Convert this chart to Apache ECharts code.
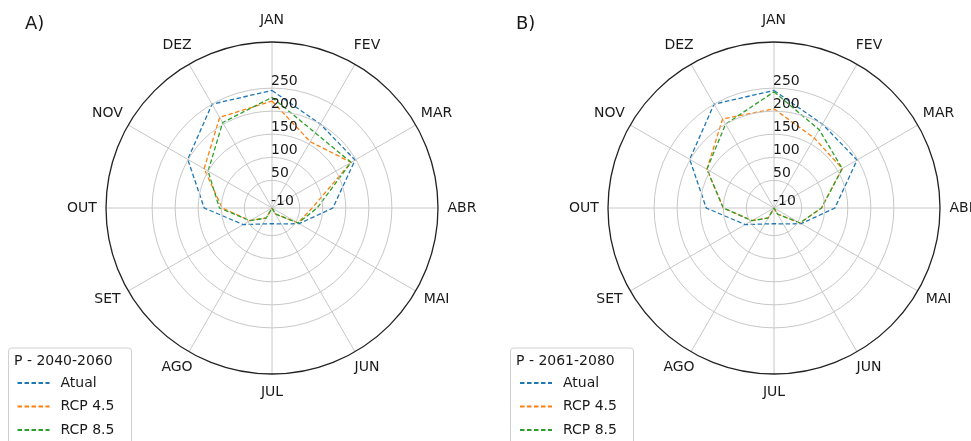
<!DOCTYPE html>
<html>
<head>
<meta charset="utf-8">
<script src="https://cdn.jsdelivr.net/npm/echarts@6/dist/echarts.min.js"></script>
<style>html,body{margin:0;padding:0;background:#fff}#c{width:971px;height:441px}</style>
</head>
<body>
<div id="c"></div>
<script>
const months = ['JAN','FEV','MAR','ABR','MAI','JUN','JUL','AGO','SET','OUT','NOV','DEZ'];
const radialTicks = [-10, 50, 100, 150, 200, 250];
const seriesNames = ['Atual', 'RCP 4.5', 'RCP 8.5'];
const panelLabels = ['A)', 'B)'];
const legendTitles = ['P - 2040-2060', 'P - 2061-2080'];
// Panel A
const atualA = [245, 200, 198, 122, 58, 30, 24, 30, 62, 137, 201, 250];
const rcp45A = [222, 156, 188, 77, 55, 5, -10, 15, 45, 98, 160, 217];
const rcp85A = [230, 178, 188, 88, 55, 5, -10, 15, 45, 104, 150, 204];
// Panel B
const atualB = [245, 200, 198, 122, 58, 30, 24, 30, 62, 137, 201, 250];
const rcp45B = [205, 165, 161, 93, 55, 5, -10, 15, 45, 100, 158, 213];
const rcp85B = [242, 186, 161, 93, 55, 5, -10, 15, 45, 100, 158, 200];

const colors = ['#1f77b4', '#ff7f0e', '#2ca02c'];
const FONT = 'DejaVu Sans';
const TXT = '#1a1a1a';
const centers = [[272, 208], [774, 208]];
const R = 166;

// --- month label placement: centre each label on an ellipse around the plot ---
const LABEL_RX = 190, LABEL_RY = 186, LABEL_DY = -2, LABEL_MARGIN = -30, LH = 16;
const measureCtx = document.createElement('canvas').getContext('2d');
measureCtx.font = '14px "DejaVu Sans"';
const rich = {};
months.forEach((m, i) => {
  const th = i * Math.PI / 6;
  const ux = Math.sin(th), uy = -Math.cos(th);
  const pr = R + LABEL_MARGIN;
  const px = pr * ux, py = pr * uy;
  const cxl = LABEL_RX * ux, cyl = LABEL_RY * uy + LABEL_DY;
  const tw = measureCtx.measureText(m).width;
  let pl = 0, prt = 0, pt = 0, pb = 0;
  const hAlign = Math.abs(px) / R < 0.3 ? 'center' : (px > 0 ? 'left' : 'right');
  const vAlign = Math.abs(py) / R < 0.3 ? 'middle' : (py > 0 ? 'top' : 'bottom');
  if (hAlign === 'left') pl = (cxl - px) - tw / 2;
  if (hAlign === 'right') prt = (px - cxl) - tw / 2;
  // text sits in the vertical middle of its padded line box
  if (vAlign === 'bottom') pb = 2 * (py - cyl) - LH;
  if (vAlign === 'top') pt = 2 * (cyl - py) - LH;
  rich['m' + i] = {
    fontFamily: FONT, fontSize: 14, color: TXT, lineHeight: LH,
    padding: [Math.max(0, pt), Math.max(0, prt), Math.max(0, pb), Math.max(0, pl)]
  };
});

function closed(vals) {
  const d = vals.map((v, i) => [v, i]);
  d.push([vals[0], 12]);
  return d;
}

const panels = [[atualA, rcp45A, rcp85A], [atualB, rcp45B, rcp85B]];

const polar = centers.map(c => ({ center: c, radius: R }));
const angleAxis = centers.map((c, k) => ({
  polarIndex: k, type: 'value', min: 0, max: 12, interval: 1,
  startAngle: 90, clockwise: true,
  axisLine: { show: true, lineStyle: { color: '#222', width: 1.3 } },
  axisTick: { show: false },
  axisLabel: {
    margin: LABEL_MARGIN, rich,
    fontFamily: FONT, fontSize: 14, color: TXT,
    formatter: v => (v >= 0 && v < 12 ? '{m' + v + '|' + months[v] + '}' : '')
  },
  splitLine: { show: true, lineStyle: { color: '#c8c8c8', width: 1 } }
}));
const radiusAxis = centers.map((c, k) => ({
  polarIndex: k, type: 'value', min: -10, max: 350,
  axisLine: { show: false },
  axisTick: { show: false, customValues: radialTicks },
  axisLabel: {
    customValues: radialTicks, inside: false, margin: 1,
    align: 'left', verticalAlign: 'bottom',
    fontFamily: FONT, fontSize: 14, color: TXT
  },
  splitLine: { show: true, lineStyle: { color: '#c8c8c8', width: 1 } },
  z: 5
}));

const series = [];
panels.forEach((p, k) => {
  p.forEach((vals, j) => {
    series.push({
      name: seriesNames[j], type: 'line', coordinateSystem: 'polar', polarIndex: k,
      data: closed(vals), symbol: 'none', silent: true,
      lineStyle: { color: colors[j], width: 1.3, type: [4.5, 2.5] },
      itemStyle: { color: colors[j] }
    });
  });
});

const boxLeft = [8, 510];
const itemLeft = [16.5, 519];
const legend = itemLeft.map(x => ({
  orient: 'vertical', left: x, top: 376, itemGap: 9.5, padding: 0,
  itemWidth: 32, itemHeight: 12,
  data: seriesNames,
  itemStyle: { opacity: 0 },
  textStyle: { fontFamily: FONT, fontSize: 14, color: TXT, padding: [0, 0, 0, 6] },
  selectedMode: false
}));

const graphic = [];
boxLeft.forEach((x, k) => {
  graphic.push({
    type: 'rect', left: x, top: 347.5, shape: { width: 123, height: 100, r: 3 },
    style: { fill: '#fff', stroke: '#d0d0d0', lineWidth: 1 }, z: -1
  });
  graphic.push({
    type: 'text', left: x + 6, top: 354,
    style: { text: legendTitles[k], font: '14px "DejaVu Sans"', fill: TXT }
  });
  graphic.push({
    type: 'text', left: k ? 516 : 25, top: 15,
    style: { text: panelLabels[k], font: '18px "DejaVu Sans"', fill: TXT }
  });
});

const chart = echarts.init(document.getElementById('c'), null, { renderer: 'canvas' });
chart.setOption({
  animation: false,
  backgroundColor: '#fff',
  polar, angleAxis, radiusAxis, series, legend, graphic
});
</script>
</body>
</html>
